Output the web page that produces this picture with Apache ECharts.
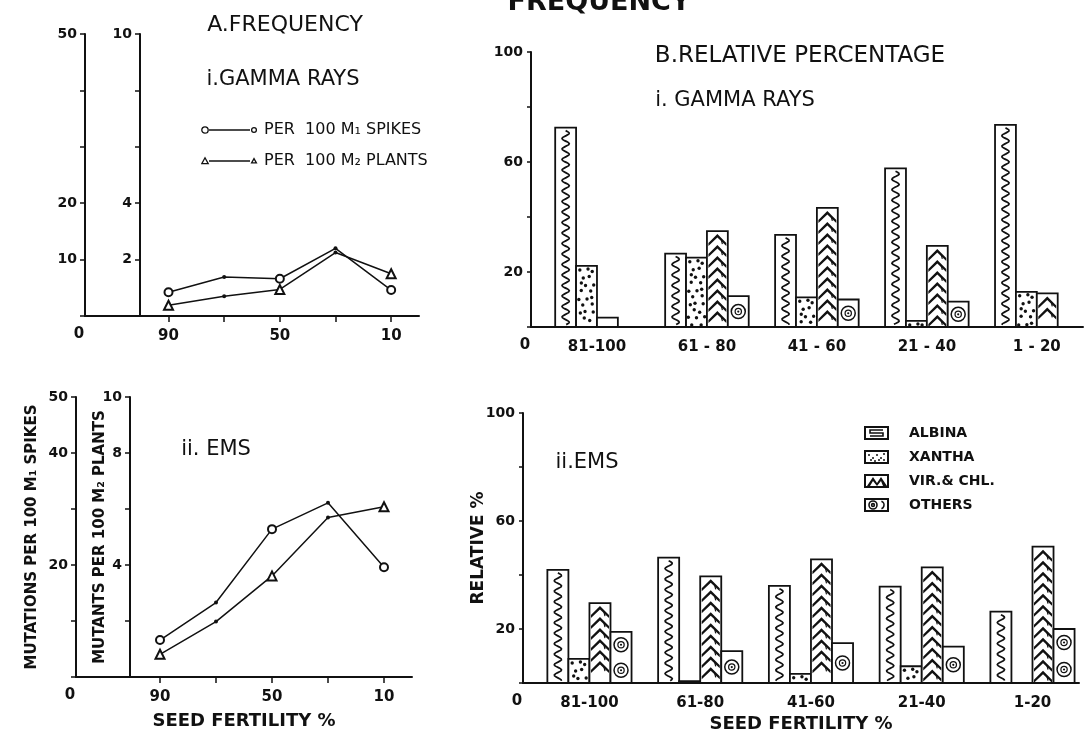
<!DOCTYPE html>
<html>
<head>
<meta charset="utf-8">
<script src="https://cdn.jsdelivr.net/npm/echarts@6/dist/echarts.min.js"></script>
<style>
    html, body { margin: 0; background: #fff; }
    #chart { width: 1089px; height: 746px; }
</style>
</head>
<body>
<div id="chart"></div>
<script>
// seed fertility classes (%) for the frequency plots
const fertility = [90, 70, 50, 30, 10]
const fertilityLabels = [90, 50, 10]

// A. frequency, gamma rays
const gammaSpikes = [4.2, 6.9, 6.6, 12.0, 4.6]      // per 100 M1 spikes (0-50 axis)
const gammaPlants = [0.38, 0.70, 0.94, 2.25, 1.5]    // per 100 M2 plants (0-10 axis)
// A. frequency, EMS
const emsSpikes = [6.6, 13.3, 26.4, 31.1, 19.6]
const emsPlants = [0.81, 1.98, 3.61, 5.70, 6.08]

// B. relative percentage
const gammaClasses = ["81-100", "61 - 80", "41 - 60", "21 - 40", "1 - 20"]
const emsClasses = ["81-100", "61-80", "41-60", "21-40", "1-20"]
const gammaAlbina = [72.5, 26.7, 33.5, 57.7, 73.5]
const gammaXantha = [22.2, 25.2, 10.8, 2.2, 12.8]
const gammaVir    = [3.4, 34.9, 43.3, 29.5, 12.2]
const gammaOthers = [0, 11.2, 10.0, 9.2, 0]
const emsAlbina = [41.9, 46.4, 36.0, 35.7, 26.4]
const emsXantha = [8.9, 0.7, 3.4, 6.2, 0]
const emsVir    = [29.6, 39.5, 45.8, 42.8, 50.5]
const emsOthers = [18.9, 11.8, 14.8, 13.5, 20.0]

const INK = "#111"
const FONT = "DejaVu Sans"
const BAR_RATIO = 0.19
const SPIKES = "PER  100 M\u2081 SPIKES"
const PLANTS = "PER  100 M\u2082 PLANTS"

function canvasIcon(w, h, draw) {
    const c = document.createElement("canvas")
    c.width = w
    c.height = h
    const ctx = c.getContext("2d")
    ctx.strokeStyle = INK
    ctx.fillStyle = INK
    ctx.lineWidth = 1.3
    draw(ctx)
    return "image://" + c.toDataURL()
}
const ring = (ctx, x, y, r) => { ctx.beginPath(); ctx.arc(x, y, r, 0, Math.PI * 2); ctx.stroke() }
const tri = (ctx, x, y, r) => {
    ctx.beginPath()
    ctx.moveTo(x, y - r); ctx.lineTo(x + r, y + r * 0.8); ctx.lineTo(x - r, y + r * 0.8)
    ctx.closePath(); ctx.stroke()
}
const lineIcon = mark => canvasIcon(58, 12, ctx => {
    ctx.beginPath(); ctx.moveTo(8, 6); ctx.lineTo(49, 6); ctx.stroke()
    mark(ctx, 4, 6, 3.2)
    mark(ctx, 53, 6, 2.4)
})
// box on the left, blank space before the text
const boxIcon = fill => canvasIcon(40, 14, ctx => {
    ctx.lineWidth = 2
    ctx.strokeRect(1, 1, 23, 12)
    ctx.lineWidth = 1.6
    fill(ctx)
})
const kindIcons = {
    albina: boxIcon(ctx => {
        ctx.beginPath()
        ctx.moveTo(19, 4); ctx.lineTo(6, 4); ctx.lineTo(6, 7); ctx.lineTo(19, 7); ctx.lineTo(19, 10); ctx.lineTo(6, 10)
        ctx.stroke()
    }),
    xantha: boxIcon(ctx => {
        [[5, 5], [9, 8], [13, 5], [17, 8], [7, 10], [15, 10], [20, 4], [11, 11], [20, 10]].forEach(([x, y]) => {
            ctx.beginPath(); ctx.arc(x, y, 1, 0, Math.PI * 2); ctx.fill()
        })
    }),
    vir: boxIcon(ctx => {
        ctx.beginPath()
        ctx.moveTo(3, 12); ctx.lineTo(9, 3); ctx.lineTo(13, 9); ctx.lineTo(17, 3); ctx.lineTo(23, 12)
        ctx.lineTo(19, 12); ctx.lineTo(17, 7); ctx.lineTo(13, 12); ctx.lineTo(9, 7); ctx.lineTo(6, 12)
        ctx.closePath(); ctx.fill()
    }),
    others: boxIcon(ctx => {
        ring(ctx, 9, 7, 4); ring(ctx, 9, 7, 1.4)
        ctx.beginPath(); ctx.arc(16, 7, 4, -1.2, 1.2); ctx.stroke()
    }),
}

// decorations of one hand-hatched bar
function barShapes(kind, x0, y0, w, h) {
    const cx = x0 + w / 2
    const out = [{
        type: "rect",
        shape: { x: x0, y: y0, width: w, height: h },
        style: { fill: "#fff", stroke: INK, lineWidth: 1.8 },
    }]
    if (kind === "albina" && h > 8) {
        const pts = []
        for (let y = y0 + 3; y <= y0 + h - 2; y += 1) {
            pts.push([cx + 3.6 * Math.sin((y - y0 - 3) / 10.5 * 2 * Math.PI), y])
        }
        out.push({ type: "polyline", shape: { points: pts }, style: { stroke: INK, lineWidth: 1.7, fill: null } })
    }
    if (kind === "xantha") {
        const jitter = [[0, 0], [1.5, -1], [-1, 1.5], [0.5, 1], [-1.5, -0.5]]
        let r = 0
        for (let y = y0 + 4; y < y0 + h - 1.5; y += 7, r++) {
            const cols = r % 2 ? [0.32, 0.7] : [0.18, 0.5, 0.82]
            cols.forEach((f, k) => {
                const j = jitter[(r * 3 + k) % 5]
                out.push({ type: "circle", shape: { cx: x0 + f * w + j[0], cy: Math.min(y + j[1], y0 + h - 2), r: 1.7 }, style: { fill: INK } })
            })
        }
    }
    if (kind === "vir") {
        const ch = Math.min(9, h - 5)
        if (ch >= 3) {
            for (let y = y0 + 3; y + ch + 3 <= y0 + h; y += 11) {
                out.push({
                    type: "polygon",
                    shape: { points: [[x0 + 1.5, y + ch], [cx, y], [x0 + w - 1.5, y + ch], [x0 + w - 1.5, y + ch + 3], [cx, y + 3.5], [x0 + 1.5, y + ch + 3]] },
                    style: { fill: INK },
                })
                out.push({ type: "line", shape: { x1: cx + 4, y1: y + 6, x2: cx + 5, y2: y + 10 }, style: { stroke: INK, lineWidth: 1.2 } })
            }
        }
    }
    if (kind === "others" && h > 10) {
        const n = Math.max(1, Math.floor(h / 24))
        const r = Math.min(7, h / 2 - 2, w / 2 - 2.5)
        for (let k = 0; k < n; k++) {
            const cy = y0 + h * (k + 0.5) / n
            out.push({ type: "circle", shape: { cx, cy, r }, style: { fill: null, stroke: INK, lineWidth: 1.5 } })
            out.push({ type: "circle", shape: { cx, cy, r: r * 0.45 }, style: { fill: null, stroke: INK, lineWidth: 1.2 } })
            out.push({ type: "circle", shape: { cx, cy, r: 1.1 }, style: { fill: INK } })
        }
    }
    return out
}

function barSeries(name, kind, slot, values, axis) {
    return {
        type: "custom",
        name,
        xAxisIndex: axis.x,
        yAxisIndex: axis.y,
        data: values.map((v, i) => [i, v]),
        encode: { x: 0, y: 1 },
        renderItem: (params, api) => {
            const v = api.value(1)
            if (!v) return
            const base = api.coord([api.value(0), 0])
            const top = api.coord([api.value(0), v])
            const w = api.size([1, 0])[0] * BAR_RATIO
            const x0 = base[0] + (slot - 2) * w
            return { type: "group", children: barShapes(kind, x0, top[1], w, base[1] - top[1]) }
        },
    }
}

function lineSeries(name, values, mark, axis) {
    return {
        type: "line",
        name,
        xAxisIndex: axis.x,
        yAxisIndex: axis.y,
        data: fertility.map((f, i) => ({
            value: [f, values[i]],
            symbol: i % 2 ? "circle" : mark,
            symbolSize: i % 2 ? 4 : (mark === "emptyTriangle" ? 9 : 8),
        })),
        lineStyle: { color: INK, width: 1.5 },
        itemStyle: { color: INK, borderWidth: 1.3 },
        z: 5,
    }
}

const axisLine = { show: true, onZero: false, lineStyle: { color: INK, width: 2 } }
const tickLabel = { color: INK, fontFamily: FONT, fontWeight: "bold", fontSize: 14 }
const nameStyle = { color: INK, fontFamily: FONT, fontWeight: "bold", fontSize: 15 }

function fertilityAxis(grid, name) {
    return {
        type: "value", gridIndex: grid, min: 0, max: 120, inverse: true,
        axisLine,
        axisTick: { show: true, customValues: fertility, length: 6, lineStyle: { color: INK, width: 1.5 } },
        axisLabel: { ...tickLabel, fontSize: 15, margin: 13, customValues: fertilityLabels },
        splitLine: { show: false },
        name, nameLocation: "middle", nameGap: 35, nameMoveOverlap: false,
        nameTextStyle: { ...nameStyle, fontSize: 18 },
    }
}
function countAxis(grid, max, step, labels, offset, name, nameGap) {
    return {
        type: "value", gridIndex: grid, min: 0, max, interval: step, position: "left", offset,
        axisLine,
        axisTick: { show: true, length: 5, lineStyle: { color: INK, width: 1.5 } },
        axisLabel: { ...tickLabel, customValues: labels },
        splitLine: { show: false },
        name, nameLocation: "middle", nameRotate: 90, nameGap, nameMoveOverlap: false,
        nameTextStyle: nameStyle,
    }
}
function classAxis(grid, classes, name) {
    return {
        type: "value", gridIndex: grid, min: -0.6, max: 4.42,
        axisLine,
        axisTick: { show: false },
        axisLabel: { ...tickLabel, fontSize: 15, margin: 13, customValues: classes.map((c, i) => i), formatter: v => classes[v] },
        splitLine: { show: false },
        name, nameLocation: "middle", nameGap: 32, nameMoveOverlap: false,
        nameTextStyle: { ...nameStyle, fontSize: 18 },
    }
}
function percentAxis(grid, name) {
    return {
        type: "value", gridIndex: grid, min: 0, max: 100, interval: 20,
        axisLine,
        axisTick: { show: true, length: 4, lineStyle: { color: INK, width: 1.5 } },
        axisLabel: { ...tickLabel, customValues: [20, 60, 100] },
        splitLine: { show: false },
        name, nameLocation: "middle", nameRotate: 90, nameGap: 36, nameMoveOverlap: false,
        nameTextStyle: { ...nameStyle, fontSize: 17 },
    }
}

const gammaRel = { x: 2, y: 4 }
const emsRel = { x: 3, y: 5 }
const kinds = [["ALBINA", "albina"], ["XANTHA", "xantha"], ["VIR.& CHL.", "vir"], ["OTHERS", "others"]]

function title(id, text, x, y, size, weight) {
    return {
        type: "text", id, x, y, z: 10,
        style: { text, fill: INK, fontFamily: FONT, fontSize: size, fontWeight: weight || "normal", align: "center", verticalAlign: "middle" },
    }
}

const option = {
    animation: false,
    backgroundColor: "#fff",
    grid: [
        { left: 85, top: 34, width: 334, height: 282 },
        { left: 76, top: 397, width: 336, height: 280 },
        { left: 531, top: 52, width: 552, height: 275 },
        { left: 523, top: 413, width: 556, height: 270 },
    ],
    xAxis: [
        fertilityAxis(0, ""),
        fertilityAxis(1, "SEED FERTILITY %"),
        classAxis(2, gammaClasses, ""),
        classAxis(3, emsClasses, "SEED FERTILITY %"),
    ],
    yAxis: [
        countAxis(0, 50, 10, [10, 20, 50], 0, "", 0),
        countAxis(0, 10, 2, [2, 4, 10], -55, "", 0),
        countAxis(1, 50, 10, [20, 40, 50], 0, "MUTATIONS PER 100 M\u2081 SPIKES", 36),
        countAxis(1, 10, 2, [4, 8, 10], -54, "MUTANTS PER 100 M\u2082 PLANTS", 22),
        percentAxis(2, ""),
        percentAxis(3, "RELATIVE %"),
    ],
    legend: [
        {
            selectedMode: false, orient: "vertical", left: 196, top: 117,
            itemWidth: 58, itemHeight: 12, itemGap: 15,
            textStyle: { color: INK, fontFamily: FONT, fontSize: 16 },
            data: [
                { name: SPIKES, icon: lineIcon(ring) },
                { name: PLANTS, icon: lineIcon(tri) },
            ],
        },
        {
            selectedMode: false, orient: "vertical", left: 859, top: 421,
            itemWidth: 40, itemHeight: 14, itemGap: 10,
            textStyle: { color: INK, fontFamily: FONT, fontSize: 14, fontWeight: "bold" },
            data: kinds.map(([name, kind]) => ({ name, icon: kindIcons[kind] })),
        },
    ],
    series: [
        lineSeries(SPIKES, gammaSpikes, "emptyCircle", { x: 0, y: 0 }),
        lineSeries(PLANTS, gammaPlants, "emptyTriangle", { x: 0, y: 1 }),
        lineSeries(SPIKES, emsSpikes, "emptyCircle", { x: 1, y: 2 }),
        lineSeries(PLANTS, emsPlants, "emptyTriangle", { x: 1, y: 3 }),
        barSeries("ALBINA", "albina", 0, gammaAlbina, gammaRel),
        barSeries("XANTHA", "xantha", 1, gammaXantha, gammaRel),
        barSeries("VIR.& CHL.", "vir", 2, gammaVir, gammaRel),
        barSeries("OTHERS", "others", 3, gammaOthers, gammaRel),
        barSeries("ALBINA", "albina", 0, emsAlbina, emsRel),
        barSeries("XANTHA", "xantha", 1, emsXantha, emsRel),
        barSeries("VIR.& CHL.", "vir", 2, emsVir, emsRel),
        barSeries("OTHERS", "others", 3, emsOthers, emsRel),
    ],
    graphic: [
        title("t0", "FREQUENCY", 599, 3, 27, "bold"),
        title("t1", "A.FREQUENCY", 285, 25, 22),
        title("t2", "i.GAMMA RAYS", 283, 80, 21),
        title("t3", "B.RELATIVE PERCENTAGE", 800, 56, 23),
        title("t4", "i. GAMMA RAYS", 735, 101, 21),
        title("t5", "ii. EMS", 216, 450, 21),
        title("t6", "ii.EMS", 587, 463, 21),
    ],
}

const chart = echarts.init(document.getElementById("chart"), null, { renderer: "canvas" })
chart.setOption(option)

// "0" at each origin, placed from the axes themselves
const origins = [
    [{ xAxisIndex: 0 }, 120, { yAxisIndex: 0 }],
    [{ xAxisIndex: 1 }, 120, { yAxisIndex: 2 }],
    [{ xAxisIndex: 2 }, -0.6, { yAxisIndex: 4 }],
    [{ xAxisIndex: 3 }, -0.6, { yAxisIndex: 5 }],
]
chart.setOption({
    graphic: origins.map(([xf, xv, yf], i) => {
        const x = chart.convertToPixel(xf, xv)
        const y = chart.convertToPixel(yf, 0)
        return title("zero" + i, "0", x - 6, y + 18, 15, "bold")
    }),
})
</script>
</body>
</html>
